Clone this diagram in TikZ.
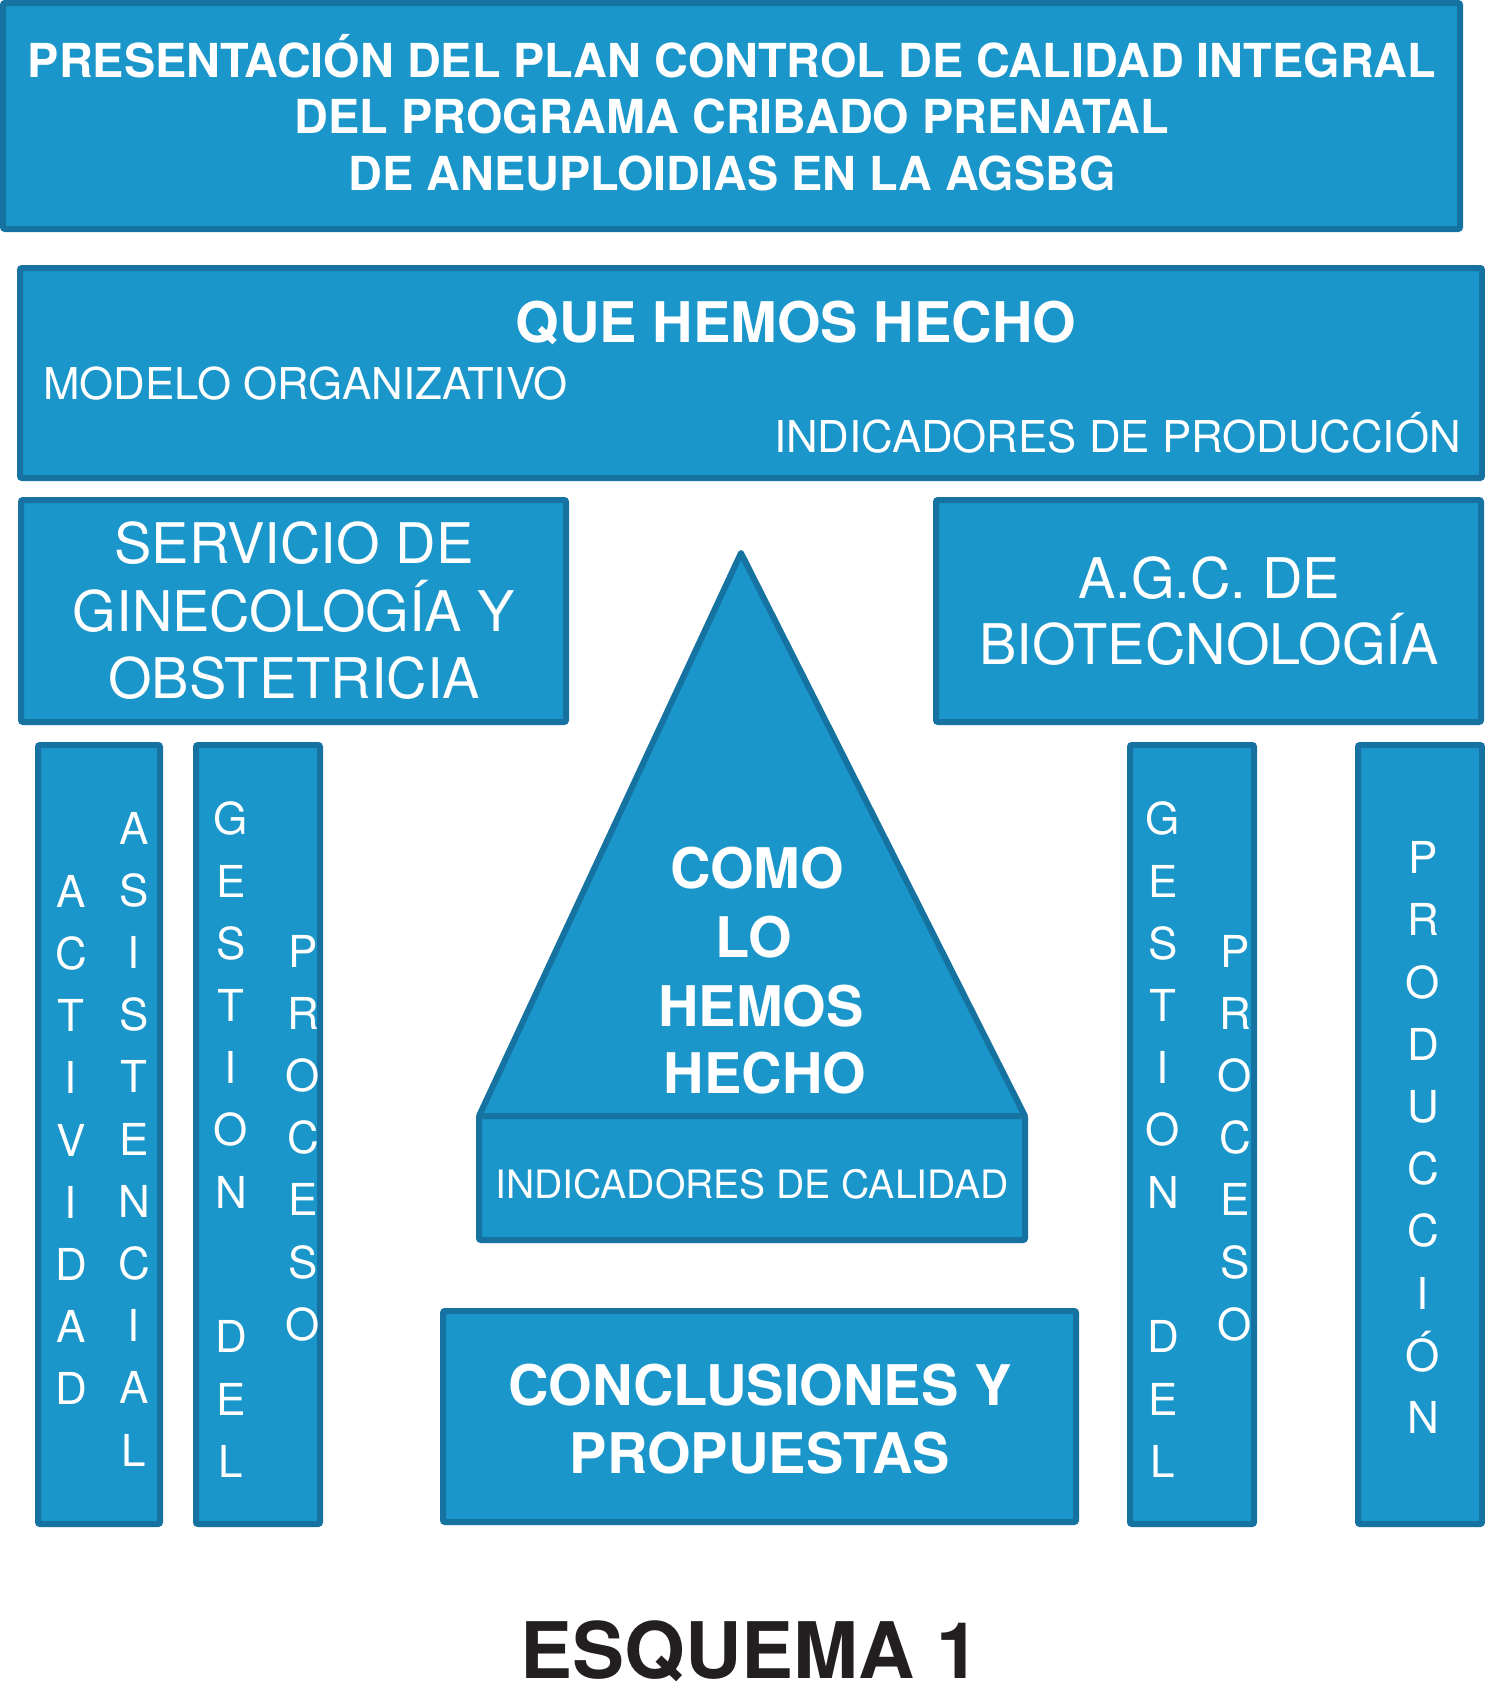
\documentclass[tikz,border=0pt]{standalone}
\usepackage{fontspec}
\setmainfont{TeX Gyre Heros}
\definecolor{boxfill}{RGB}{26,150,202}
\definecolor{boxline}{RGB}{22,114,160}
\definecolor{inkdark}{RGB}{35,31,32}
\begin{document}
\begin{tikzpicture}[x=1pt,y=-1pt,
  panel/.style={draw=boxline,fill=boxfill,line width=6pt,inner sep=0pt,rounded corners=2pt},
  wtext/.style={text=white,inner sep=0pt,anchor=base},
  ttl/.style={wtext,font=\fontsize{46.8}{56}\selectfont\bfseries},
  bigb/.style={wtext,font=\fontsize{56}{67}\selectfont\bfseries},
  bigr/.style={wtext,font=\fontsize{56}{67}\selectfont},
  midr/.style={wtext,font=\fontsize{43.8}{50}\selectfont},
  vword/.style={text=white,inner sep=0pt,align=center,font=\fontsize{44}{62.2}\selectfont}]
\useasboundingbox[fill=white] (0,0) rectangle (1485,1695);

% title
\node[panel,minimum width=1457pt,minimum height=226pt] (title) at (731.5,116) {};
\node[ttl] (t1) at (732,77) {PRESENTACIÓN DEL PLAN CONTROL DE CALIDAD INTEGRAL};
\node[ttl] (t2) at (732,133) {DEL PROGRAMA CRIBADO PRENATAL};
\node[ttl] (t3) at (732,190) {DE ANEUPLOIDIAS EN LA AGSBG};

% que hemos hecho
\node[panel,minimum width=1462pt,minimum height=210pt] (que) at (751,373) {};
\node[bigb] (q1) at (796,342) {QUE HEMOS HECHO};
\node[midr,anchor=base west] (q2) at (43,399) {MODELO ORGANIZATIVO};
\node[midr,anchor=base east] (q3) at (1461,452) {INDICADORES DE PRODUCCIÓN};

% servicio
\node[panel,minimum width=545pt,minimum height=222pt] (serv) at (293.5,611) {};
\node[bigr] (s1) at (294,563) {SERVICIO DE};
\node[bigr] (s2) at (294,631) {GINECOLOGÍA Y};
\node[bigr] (s3) at (294,698) {OBSTETRICIA};

% agc
\node[panel,minimum width=545pt,minimum height=222pt] (agc) at (1208.5,611) {};
\node[bigr] (a1) at (1209,598) {A.G.C. DE};
\node[bigr] (a2) at (1209,664) {BIOTECNOLOGÍA};

% columns
\node[panel,minimum width=122pt,minimum height=779pt] (col1) at (99,1134.5) {};
\node[panel,minimum width=124pt,minimum height=779pt] (col2) at (258,1134.5) {};
\node[panel,minimum width=124pt,minimum height=779pt] (col3) at (1192,1134.5) {};
\node[panel,minimum width=124pt,minimum height=779pt] (col4) at (1420,1134.5) {};

\node[vword] (c1a) at (71,1140) {A\\C\\T\\I\\V\\I\\D\\A\\D};
\node[vword] (c1b) at (134,1139) {A\\S\\I\\S\\T\\E\\N\\C\\I\\A\\L};
\node[vword] (c2a) at (231,1005) {G\\E\\S\\T\\I\\O\\N};
\node[vword] (c2b) at (231,1399) {D\\E\\L};
\node[vword] (c2c) at (303,1138) {P\\R\\O\\C\\E\\S\\O};
\node[vword] (c3a) at (1163,1005) {G\\E\\S\\T\\I\\O\\N};
\node[vword] (c3b) at (1163,1399) {D\\E\\L};
\node[vword] (c3c) at (1235,1138) {P\\R\\O\\C\\E\\S\\O};
\node[vword] (c4a) at (1423,1137.5) {P\\R\\O\\D\\U\\C\\C\\I\\Ó\\N};

% triangle
\coordinate (apex) at (741,553);
\coordinate (bl) at (479,1116);
\coordinate (br) at (1025,1116);
\draw[draw=boxline,fill=boxfill,line width=6pt,line join=round] (bl) -- (apex) -- (br) -- cycle;
\node[bigb] (h1) at (757,888) {COMO};
\node[bigb] (h2) at (754,957) {LO};
\node[bigb] (h3) at (761,1026) {HEMOS};
\node[bigb] (h4) at (765,1093) {HECHO};
\node[panel,minimum width=546pt,minimum height=124pt] (calid) at (752,1178) {};
\node[wtext,font=\fontsize{39.1}{46}\selectfont] (cl) at (752,1198) {INDICADORES DE CALIDAD};

% conclusiones
\node[panel,minimum width=633pt,minimum height=211pt] (concl) at (759.5,1416.5) {};
\node[bigb] (k1) at (760,1405) {CONCLUSIONES Y};
\node[bigb] (k2) at (760,1473) {PROPUESTAS};

% caption
\node[inner sep=0pt,anchor=base,text=inkdark,font=\fontsize{78}{90}\selectfont\bfseries] (esq) at (750,1678) {ESQUEMA 1};
\end{tikzpicture}
\end{document}
